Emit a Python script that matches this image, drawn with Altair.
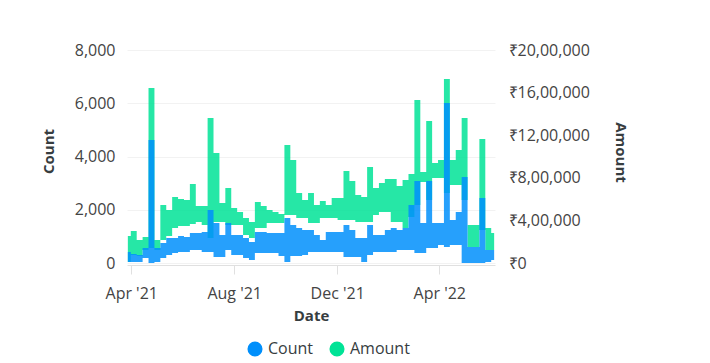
import altair as alt
import pandas as pd

# Weekly sampling points (x positions of the data)
dates = pd.date_range("2021-03-28", periods=63, freq="7D")

# Count (left axis): upper and lower edge of the blue band
count_high = [413, 338, 300, 563, 4620, 563, 751, 939, 939, 1014, 977, 1127, 1127, 1164,
              1991, 1502, 1052, 1502, 1052, 1052, 939, 789, 1164, 1164, 1127, 1127, 1127,
              1690, 1427, 1315, 1239, 1239, 1052, 864, 1164, 1164, 1164, 1427, 1239, 939,
              939, 1427, 1052, 1052, 1239, 1315, 1239, 1315, 2178, 3080, 1502, 3080, 1502,
              1502, 6010, 1615, 1916, 3230, 601, 601, 2441, 488, 488]
count_low = [38, 38, 38, 188, 0, 38, 188, 300, 376, 413, 413, 488, 488, 413, 413, 225, 225,
             488, 300, 300, 188, 113, 376, 376, 376, 376, 263, 38, 263, 263, 300, 413, 413,
             413, 413, 413, 413, 225, 225, 225, 38, 300, 413, 413, 413, 413, 488, 488, 488,
             376, 376, 563, 563, 676, 601, 676, 676, 0, 0, 0, 0, 38, 113]

# Amount (right axis): upper and lower edge of the green band
amount_high = [254000, 300000, 216000, 244000, 1643000, 216000, 545000, 498000, 620000,
               601000, 592000, 742000, 535000, 535000, 1362000, 1033000, 563000, 704000,
               516000, 479000, 423000, 385000, 573000, 535000, 498000, 479000, 460000,
               1108000, 967000, 657000, 592000, 657000, 545000, 582000, 545000, 610000,
               610000, 864000, 770000, 639000, 620000, 901000, 704000, 751000, 789000,
               789000, 723000, 779000, 836000, 1531000, 854000, 1333000, 939000, 967000,
               1728000, 967000, 1061000, 1362000, 357000, 357000, 1164000, 329000, 282000]
amount_low = [9000, 75000, 66000, 122000, 141000, 122000, 216000, 254000, 329000, 347000,
              347000, 366000, 385000, 357000, 235000, 385000, 385000, 357000, 357000,
              357000, 263000, 235000, 329000, 329000, 376000, 376000, 376000, 451000,
              451000, 423000, 423000, 376000, 376000, 423000, 423000, 423000, 404000,
              404000, 404000, 385000, 385000, 385000, 451000, 479000, 479000, 385000,
              385000, 329000, 432000, 545000, 761000, 592000, 798000, 798000, 657000,
              732000, 732000, 592000, 150000, 150000, 310000, 122000, 122000]

series_names = ["Count", "Amount"]
series_colors = ["#008FFB", "#00E396"]
count_ticks = [0, 2000, 4000, 6000, 8000]
amount_ticks = [0, 400000, 800000, 1200000, 1600000, 2000000]
x_ticks = [alt.DateTime(year=2021, month=4, date=1), alt.DateTime(year=2021, month=8, date=1),
           alt.DateTime(year=2021, month=12, date=1), alt.DateTime(year=2022, month=4, date=1)]

df = pd.DataFrame({
    "Date": dates,
    "count_high": count_high,
    "count_low": count_low,
    "amount_high": amount_high,
    "amount_low": amount_low,
})

FONT = "Open Sans"
LABEL = "#444444"
TITLE = "#373d3f"

x_enc = alt.X(
    "Date:T",
    scale=alt.Scale(domain=[alt.DateTime(year=2021, month=3, date=27),
                            alt.DateTime(year=2022, month=6, date=6)]),
    axis=alt.Axis(
        values=x_ticks, format="%b '%y", offset=2,
        domainColor="#e0e0e0", tickColor="#e0e0e0", tickSize=9, labelPadding=11,
        labelFont=FONT, labelFontSize=16, labelColor=LABEL, labelFlush=False,
        grid=False, title="Date", titleFont=FONT, titleFontSize=15,
        titleFontWeight="bold", titleColor=TITLE, titleY=50, titleBaseline="middle",
    ),
)

color_enc = alt.Color(
    "series:N",
    scale=alt.Scale(domain=series_names, range=series_colors),
    legend=alt.Legend(
        title=None, orient="none", legendX=120, legendY=291, direction="horizontal",
        symbolType="circle", symbolSize=227, symbolOpacity=1, symbolStrokeWidth=0,
        labelFont=FONT, labelFontSize=16, labelColor=TITLE, labelOffset=5,
        columnPadding=15, padding=0,
    ),
)

amount_layer = alt.Chart(df).transform_calculate(series="'Amount'").mark_area(
    interpolate="step", fillOpacity=0.85
).encode(
    x=x_enc,
    y=alt.Y(
        "amount_high:Q",
        scale=alt.Scale(domain=[0, 2000000], nice=False, zero=True),
        axis=alt.Axis(
            orient="right", values=amount_ticks,
            labelExpr="datum.value == 0 ? '₹0' : '₹' + floor(datum.value / 100000) + ',' + format(floor((datum.value % 100000) / 1000), '02d') + ',' + format(datum.value % 1000, '03d')",
            ticks=False, domain=False, grid=False, labelPadding=13,
            labelFont=FONT, labelFontSize=16, labelColor=LABEL,
            title="Amount", titleFont=FONT, titleFontSize=15, titleFontWeight="bold",
            titleColor=TITLE, titleAngle=90, titleX=125, titleY=102,
            titleAlign="center", titleBaseline="middle",
        ),
    ),
    y2="amount_low:Q",
    color=color_enc,
)

count_layer = alt.Chart(df).transform_calculate(series="'Count'").mark_area(
    interpolate="step", fillOpacity=0.85
).encode(
    x=x_enc,
    y=alt.Y(
        "count_high:Q",
        scale=alt.Scale(domain=[0, 8000], nice=False, zero=True),
        axis=alt.Axis(
            orient="left", values=count_ticks, format=",d",
            ticks=False, domain=False, grid=True, gridColor="#f2f2f2", labelPadding=12,
            labelFont=FONT, labelFontSize=16, labelColor=LABEL,
            title="Count", titleFont=FONT, titleFontSize=15, titleFontWeight="bold",
            titleColor=TITLE, titleAngle=-90, titleX=-79, titleY=101,
            titleAlign="center", titleBaseline="middle",
        ),
    ),
    y2="count_low:Q",
    color=color_enc,
)

chart = alt.layer(amount_layer, count_layer).resolve_scale(y="independent").properties(
    width=368, height=213,
    padding={"left": 119, "top": 42, "right": 200, "bottom": 100},
    autosize=alt.AutoSizeParams(type="none"),
).configure_view(stroke=None)

chart.save("out.html", embed_options={"renderer": "svg", "actions": False})
